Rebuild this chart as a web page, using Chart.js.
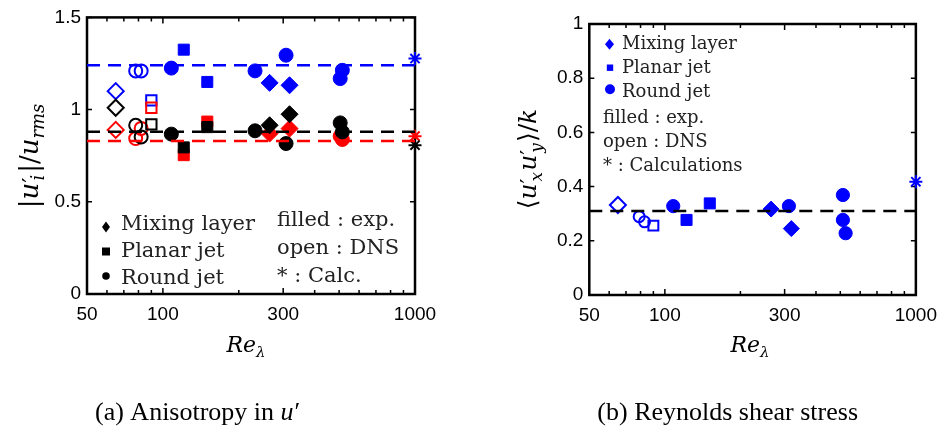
<!DOCTYPE html>
<html lang="en">
<head>
<meta charset="UTF-8">
<title>Anisotropy and Reynolds shear stress vs Re_lambda</title>
<script src="https://cdn.jsdelivr.net/npm/chart.js"></script>
<style>
    body { margin: 0; background: #fff; }
    .wrap { position: relative; width: 946px; height: 430px; }
    canvas { position: absolute; left: 0; top: 0; }
</style>
</head>
<body>
<div class="wrap">
    <canvas id="chartA" width="946" height="430"></canvas>
    <canvas id="chartB" width="946" height="430"></canvas>
</div>
<script>
// axis ticks (shared log axis)
const xTickValues = [50, 100, 300, 1000];
const xMinorTicks = [60, 70, 80, 90, 200, 400, 500, 600, 700, 800, 900];
const aYTicks = [0, 0.5, 1, 1.5];
const bYTicks = [0, 0.2, 0.4, 0.6, 0.8, 1];

// (a) anisotropy in u' : blue / black / red components
const aMixDnsRe = [65];
const aMixDnsBlue = [1.10];
const aMixDnsBlack = [1.01];
const aMixDnsRed = [0.89];

const aRoundDnsRe = [78, 82];
const aRoundDnsBlue = [1.21, 1.21];
const aRoundDnsBlack = [0.915, 0.852];
const aRoundDnsRed = [0.843, 0.898];

const aPlanarDnsRe = [90];
const aPlanarDnsBlue = [1.05];
const aPlanarDnsBlack = [0.92];
const aPlanarDnsRed = [1.01];

const aMixExpRe = [265, 318];
const aMixExpBlue = [1.145, 1.132];
const aMixExpBlack = [0.915, 0.975];
const aMixExpRed = [0.87, 0.897];

const aPlanarExpRe = [121, 150];
const aPlanarExpBlue = [1.325, 1.15];
const aPlanarExpBlack = [0.795, 0.905];
const aPlanarExpRed = [0.753, 0.935];

const aRoundExpRe = [108, 232, 308, 505, 515];
const aRoundExpBlue = [1.225, 1.21, 1.295, 1.168, 1.213];
const aRoundExpBlack = [0.867, 0.885, 0.816, 0.928, 0.879];
const aRoundExpRed = [null, null, null, 0.856, 0.838];

const aCalcRe = [1000];
const aCalcBlue = [1.277];
const aCalcBlack = [0.807];
const aCalcRed = [0.856];

const aFitBlue = 1.24;
const aFitBlack = 0.88;
const aFitRed = 0.83;

// (b) Reynolds shear stress
const bMixDnsRe = [65];
const bMixDns = [0.332];
const bRoundDnsRe = [79, 83];
const bRoundDns = [0.289, 0.27];
const bPlanarDnsRe = [90];
const bPlanarDns = [0.256];
const bMixExpRe = [265, 319];
const bMixExp = [0.317, 0.245];
const bPlanarExpRe = [122, 151];
const bPlanarExp = [0.277, 0.338];
const bRoundExpRe = [108, 312, 512, 512, 525];
const bRoundExp = [0.328, 0.328, 0.369, 0.277, 0.228];
const bCalcRe = [1000];
const bCalc = [0.418];
const bFit = 0.31;

const BLUE = '#0000ff', BLACK = '#000000', RED = '#ff0000';

function pts(re, vals) {
    return re.map((r, i) => ({ x: r, y: vals[i] })).filter(p => p.y != null);
}

function marks(re, vals, style, color, filled, radius) {
    return {
        data: pts(re, vals),
        pointStyle: style,
        pointRadius: radius,
        pointBackgroundColor: filled ? color : 'rgba(0,0,0,0)',
        pointBorderColor: color,
        pointBorderWidth: filled ? 1 : 2,
        clip: false
    };
}

function fit(v, color) {
    return {
        data: [{ x: xTickValues[0], y: v }, { x: xTickValues[xTickValues.length - 1], y: v }],
        showLine: true,
        borderColor: color,
        borderWidth: 2.5,
        borderDash: [13, 8],
        pointRadius: 0
    };
}

const serif = '"DejaVu Serif", "DejaVu Sans"';
const mi = s => `italic ${s}px ${serif}`;
const mr = s => `${s}px ${serif}`;

function drawRuns(ctx, runs, x, y, align) {
    let w = 0;
    runs.forEach(r => { ctx.font = r.f; w += ctx.measureText(r.t).width + (r.dx || 0); });
    let cx = align === 'center' ? x - w / 2 : align === 'right' ? x - w : x;
    runs.forEach(r => {
        ctx.font = r.f;
        ctx.fillText(r.t, cx, y + (r.dy || 0));
        cx += ctx.measureText(r.t).width + (r.dx || 0);
    });
}

function diamond(ctx, x, y, w, h) {
    ctx.beginPath();
    ctx.moveTo(x, y - h); ctx.lineTo(x + w, y); ctx.lineTo(x, y + h); ctx.lineTo(x - w, y);
    ctx.closePath(); ctx.fill();
}
function square(ctx, x, y, h) { ctx.fillRect(x - h, y - h, 2 * h, 2 * h); }
function dot(ctx, x, y, r) { ctx.beginPath(); ctx.arc(x, y, r, 0, Math.PI * 2); ctx.fill(); }

// frame with inward ticks on all four sides
function frameTicks(yTicks) {
    return {
        id: 'frameTicks',
        beforeDatasetsDraw(chart) {
            const { ctx, chartArea: a, scales: { x, y } } = chart;
            ctx.save();
            ctx.strokeStyle = '#000';
            ctx.lineWidth = 2.5;
            ctx.strokeRect(a.left, a.top, a.right - a.left, a.bottom - a.top);
            ctx.lineWidth = 1.5;
            ctx.beginPath();
            xTickValues.concat(xMinorTicks).forEach(v => {
                const px = x.getPixelForValue(v);
                const len = xTickValues.includes(v) ? 6 : 4;
                ctx.moveTo(px, a.bottom); ctx.lineTo(px, a.bottom - len);
                ctx.moveTo(px, a.top); ctx.lineTo(px, a.top + len);
            });
            yTicks.forEach(v => {
                const py = y.getPixelForValue(v);
                ctx.moveTo(a.left, py); ctx.lineTo(a.left + 5, py);
                ctx.moveTo(a.right, py); ctx.lineTo(a.right - 5, py);
            });
            ctx.stroke();
            ctx.restore();
        }
    };
}

function baseOptions(yTicks, yMax, yWidth, padding) {
    return {
        responsive: false,
        animation: false,
        events: [],
        layout: { padding: padding },
        plugins: { legend: { display: false }, tooltip: { enabled: false } },
        scales: {
            x: {
                type: 'logarithmic', min: 50, max: 1000,
                afterBuildTicks: s => { s.ticks = xTickValues.map(v => ({ value: v })); },
                afterFit: s => { s.height = 40; },
                grid: { display: false, drawTicks: false },
                border: { display: false },
                ticks: {
                    font: { family: '"Liberation Sans", Arial', size: 19 }, color: '#000',
                    padding: 9, maxRotation: 0, autoSkip: false,
                    callback: v => String(v)
                }
            },
            y: {
                type: 'linear', min: 0, max: yMax,
                afterBuildTicks: s => { s.ticks = yTicks.map(v => ({ value: v })); },
                afterFit: s => { s.width = yWidth; },
                grid: { display: false, drawTicks: false },
                border: { display: false },
                ticks: {
                    font: { family: '"Liberation Sans", Arial', size: 19 }, color: '#000',
                    padding: 6, callback: v => String(v)
                }
            }
        }
    };
}

// ---------- (a) ----------
const textsA = {
    id: 'textsA',
    afterDraw(chart) {
        const ctx = chart.ctx;
        ctx.save();
        ctx.fillStyle = '#000';
        ctx.textBaseline = 'alphabetic';
        ctx.textAlign = 'left';
        // y title
        ctx.save();
        ctx.translate(38, 156);
        ctx.rotate(-Math.PI / 2);
        drawRuns(ctx, [
            { t: '|', f: mr(26) }, { t: 'u', f: mi(26) }, { t: '′', f: mr(23), dx: -3 },
            { t: 'i', f: mi(18), dy: 6, dx: 2 }, { t: '|', f: mr(26) }, { t: '/', f: mr(26) },
            { t: 'u', f: mi(26) }, { t: 'rms', f: mi(18), dy: 6 }
        ], 0, 0, 'center');
        ctx.restore();
        // x title
        drawRuns(ctx, [{ t: 'Re', f: mi(22) }, { t: 'λ', f: mi(15), dy: 5 }], 246, 352, 'center');
        // legend
        diamond(ctx, 106, 227, 4, 5.5);
        square(ctx, 106, 251.5, 4);
        dot(ctx, 106, 276, 3.8);
        ctx.fillStyle = '#222';
        ctx.font = mr(21);
        ctx.fillText('Mixing layer', 121, 230);
        ctx.fillText('Planar jet', 121, 257);
        ctx.fillText('Round jet', 121, 284);
        ctx.fillText('filled : exp.', 277, 226);
        ctx.fillText('open : DNS', 277, 254);
        ctx.fillText('* : Calc.', 277, 282);
        // caption
        ctx.fillStyle = '#000';
        drawRuns(ctx, [
            { t: '(a) Anisotropy in ', f: '26px "Liberation Serif"' },
            { t: 'u', f: 'italic 26px "Liberation Serif"', dx: 1 },
            { t: '′', f: '26px "Liberation Serif"' }
        ], 95, 420, 'left');
        ctx.restore();
    }
};

new Chart(document.getElementById('chartA'), {
    type: 'scatter',
    data: {
        datasets: [
            fit(aFitBlack, BLACK), fit(aFitRed, RED), fit(aFitBlue, BLUE),
            marks(aCalcRe, aCalcBlack, 'star', BLACK, false, 6.5),
            marks(aCalcRe, aCalcRed, 'star', RED, false, 6.5),
            marks(aCalcRe, aCalcBlue, 'star', BLUE, false, 6.5),
            marks(aMixDnsRe, aMixDnsBlack, 'rectRot', BLACK, false, 8),
            marks(aRoundDnsRe, aRoundDnsBlack, 'circle', BLACK, false, 6.5),
            marks(aPlanarDnsRe, aPlanarDnsBlack, 'rect', BLACK, false, 7.3),
            marks(aMixExpRe, aMixExpBlack, 'rectRot', BLACK, true, 8.5),
            marks(aPlanarExpRe, aPlanarExpBlack, 'rect', BLACK, true, 7.8),
            marks(aRoundExpRe, aRoundExpBlack, 'circle', BLACK, true, 7),
            marks(aMixDnsRe, aMixDnsRed, 'rectRot', RED, false, 8),
            marks(aRoundDnsRe, aRoundDnsRed, 'circle', RED, false, 6.5),
            marks(aPlanarDnsRe, aPlanarDnsRed, 'rect', RED, false, 7.3),
            marks(aMixExpRe, aMixExpRed, 'rectRot', RED, true, 8.5),
            marks(aPlanarExpRe, aPlanarExpRed, 'rect', RED, true, 7.8),
            marks(aRoundExpRe, aRoundExpRed, 'circle', RED, true, 7),
            marks(aPlanarDnsRe, aPlanarDnsBlue, 'rect', BLUE, false, 7.3),
            marks(aMixDnsRe, aMixDnsBlue, 'rectRot', BLUE, false, 8),
            marks(aRoundDnsRe, aRoundDnsBlue, 'circle', BLUE, false, 6.5),
            marks(aMixExpRe, aMixExpBlue, 'rectRot', BLUE, true, 8.5),
            marks(aPlanarExpRe, aPlanarExpBlue, 'rect', BLUE, true, 7.8),
            marks(aRoundExpRe, aRoundExpBlue, 'circle', BLUE, true, 7)
        ]
    },
    options: baseOptions(aYTicks, 1.5, 87, { left: 0, right: 531, top: 16.7, bottom: 96 }),
    plugins: [frameTicks(aYTicks), textsA]
});

// ---------- (b) ----------
const textsB = {
    id: 'textsB',
    afterDraw(chart) {
        const ctx = chart.ctx;
        ctx.save();
        ctx.fillStyle = '#000';
        ctx.textBaseline = 'alphabetic';
        ctx.textAlign = 'left';
        ctx.save();
        ctx.translate(536, 159);
        ctx.rotate(-Math.PI / 2);
        drawRuns(ctx, [
            { t: '⟨', f: mr(25) }, { t: 'u', f: mi(25) }, { t: '′', f: mr(22), dx: -3 },
            { t: 'x', f: mi(17), dy: 6, dx: 1 }, { t: 'u', f: mi(25) }, { t: '′', f: mr(22), dx: -3 },
            { t: 'y', f: mi(17), dy: 6, dx: 1 }, { t: '⟩', f: mr(25) }, { t: '/', f: mr(25) },
            { t: 'k', f: mi(25) }
        ], 0, 0, 'center');
        ctx.restore();
        drawRuns(ctx, [{ t: 'Re', f: mi(22) }, { t: 'λ', f: mi(15), dy: 5 }], 750, 352, 'center');
        // legend
        ctx.fillStyle = BLUE;
        diamond(ctx, 609.5, 44.3, 4.5, 5.5);
        square(ctx, 610, 67.7, 3.2);
        dot(ctx, 610, 89.3, 5);
        ctx.fillStyle = '#222';
        ctx.font = mr(18);
        ctx.fillText('Mixing layer', 622, 49.3);
        ctx.fillText('Planar jet', 622, 72.7);
        ctx.fillText('Round jet', 622, 97.3);
        ctx.fillText('filled : exp.', 603, 122.7);
        ctx.fillText('open : DNS', 603, 146.7);
        ctx.fillText('* : Calculations', 603, 170.7);
        ctx.fillStyle = '#000';
        ctx.font = '26px "Liberation Serif"';
        ctx.textAlign = 'right';
        ctx.fillText('(b) Reynolds shear stress', 858, 420);
        ctx.restore();
    }
};

new Chart(document.getElementById('chartB'), {
    type: 'scatter',
    data: {
        datasets: [
            fit(bFit, BLACK),
            marks(bCalcRe, bCalc, 'star', BLUE, false, 6.5),
            marks(bMixDnsRe, bMixDns, 'rectRot', BLUE, false, 8),
            marks(bRoundDnsRe, bRoundDns, 'circle', BLUE, false, 5.5),
            marks(bPlanarDnsRe, bPlanarDns, 'rect', BLUE, false, 7),
            marks(bMixExpRe, bMixExp, 'rectRot', BLUE, true, 8),
            marks(bPlanarExpRe, bPlanarExp, 'rect', BLUE, true, 7.8),
            marks(bRoundExpRe, bRoundExp, 'circle', BLUE, true, 6.6)
        ]
    },
    options: baseOptions(bYTicks, 1, 60, { left: 529.3, right: 24.3, top: 24, bottom: 95 }),
    plugins: [frameTicks(bYTicks), textsB]
});
</script>
</body>
</html>
